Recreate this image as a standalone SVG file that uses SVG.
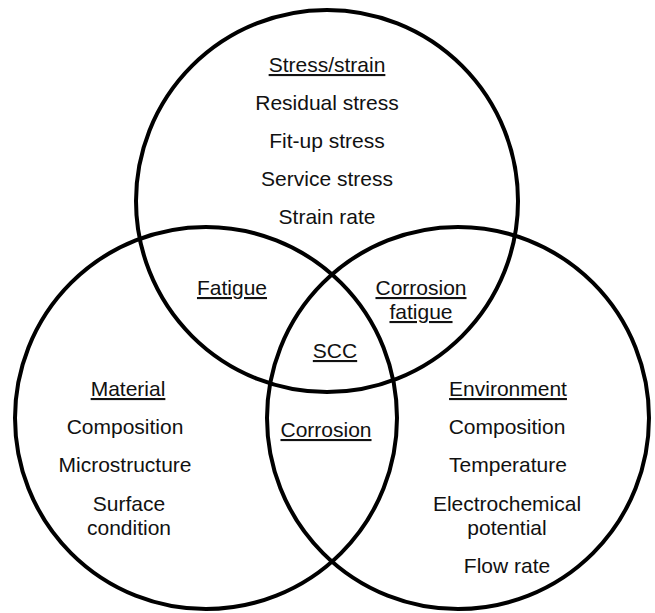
<svg xmlns="http://www.w3.org/2000/svg" width="655" height="613" viewBox="0 0 655 613">
  <style>
    .ring { fill: none; stroke: #000; stroke-width: 4; }
    text { font-family: "Liberation Sans", Arial, Helvetica, sans-serif; font-size: 21px; fill: #111; text-anchor: middle; }
    .head { text-decoration: underline; }
  </style>
  <rect width="655" height="613" fill="#fff"/>

  <!-- Three overlapping factor circles -->
  <g id="connectors">
    <circle class="ring" cx="327" cy="201" r="191"/>
    <circle class="ring" cx="206" cy="418" r="191"/>
    <circle class="ring" cx="458" cy="418" r="191"/>
  </g>

  <g id="stress">
    <text class="head" x="327" y="72">Stress/strain</text>
    <text x="327" y="110">Residual stress</text>
    <text x="327" y="148">Fit-up stress</text>
    <text x="327" y="186">Service stress</text>
    <text x="327" y="224">Strain rate</text>
  </g>

  <g id="material">
    <text class="head" x="128" y="396">Material</text>
    <text x="125" y="434">Composition</text>
    <text x="125" y="472">Microstructure</text>
    <text x="129" y="511">Surface</text>
    <text x="129" y="535">condition</text>
  </g>

  <g id="environment">
    <text class="head" x="508" y="396">Environment</text>
    <text x="507" y="434">Composition</text>
    <text x="508" y="472">Temperature</text>
    <text x="507" y="511">Electrochemical</text>
    <text x="507" y="535">potential</text>
    <text x="507" y="573">Flow rate</text>
  </g>

  <g id="fatigue">
    <text class="head" x="232" y="295">Fatigue</text>
  </g>

  <g id="corrosion-fatigue">
    <text class="head" x="421" y="295">Corrosion</text>
    <text class="head" x="421" y="319">fatigue</text>
  </g>

  <g id="scc">
    <text class="head" x="335" y="358">SCC</text>
  </g>

  <g id="corrosion">
    <text class="head" x="326" y="437">Corrosion</text>
  </g>
</svg>
